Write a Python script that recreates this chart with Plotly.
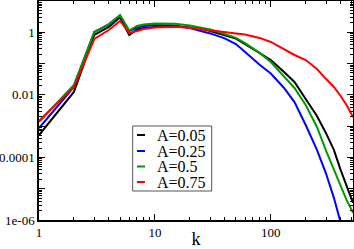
import plotly.graph_objects as go

k = [1, 2, 3, 4, 5, 6, 7, 8, 10, 12, 15, 20, 25, 30, 40, 50, 60, 80, 100,
     130, 160, 200, 250, 300, 350, 400, 450, 512]

A005 = [5.2e-4, 0.0124, 0.82, 1.48, 3.01, 0.82, 1.23, 1.37, 1.48, 1.51, 1.51, 1.42,
        1.32, 1.10, 0.79, 0.63, 0.42, 0.218, 0.130, 0.054, 0.0258, 0.0074, 2.1e-3,
        5.85e-4, 1.74e-4, 4.0e-5, 1.23e-5, 3.5e-6]
A025 = [8.7e-4, 0.0179, 1.02, 1.77, 3.4, 1.10, 1.42, 1.59, 1.71, 1.71, 1.65, 1.37,
        1.12, 0.92, 0.64, 0.42, 0.235, 0.091, 0.048, 0.0166, 0.0059, 1.09e-3, 1.74e-4,
        3.0e-5, 5.1e-6, 8.7e-7, 1.6e-7, 3e-8]
A050 = [1.36e-3, 0.0207, 1.02, 1.84, 3.57, 1.14, 1.59, 1.77, 1.91, 1.94, 1.88, 1.65,
        1.42, 1.23, 0.88, 0.66, 0.45, 0.22, 0.112, 0.0373, 0.0166, 4.75e-3, 9.4e-4,
        1.61e-4, 4.0e-5, 1.23e-5, 4.4e-6, 1.69e-6]
A075 = [1.47e-3, 0.0179, 0.61, 1.18, 2.30, 0.95, 1.10, 1.27, 1.42, 1.48, 1.51, 1.39,
        1.27, 1.14, 1.06, 0.92, 0.85, 0.66, 0.49, 0.29, 0.188, 0.130, 0.067, 0.032,
        0.0179, 9.2e-3, 4.75e-3, 1.97e-3]

labels = ["A=0.05", "A=0.25", "A=0.5", "A=0.75"]
colors = ["#000000", "#0000ff", "#009a00", "#ff0000"]
series = [A005, A025, A050, A075]

x_major = [1, 10, 100]
x_major_text = ["1", "10", "100"]
x_minor = [m * d for d in (1, 10, 100) for m in range(2, 10) if m * d <= 512]
y_major = [1e-6, 1e-5, 1e-4, 1e-3, 1e-2, 1e-1, 1, 10]
y_major_text = ["1e-06", "", "0.0001", "", "0.01", "", "1", ""]
y_minor = [m * 10.0 ** e for e in range(-6, 1) for m in range(2, 10)]

FONT = "Liberation Serif, Times New Roman, Times, serif"
W, H = 354, 249
L, R, T, B = 39, 1, 1, 29
pw, ph = W - L - R, H - T - B

fig = go.Figure()
for name, col, ys in zip(labels, colors, series):
    fig.add_trace(go.Scatter(x=k, y=ys, mode="lines", name=name,
                             line=dict(color=col, width=2), showlegend=False))

def px2paper(x, y):
    return (x - L) / pw, (H - B - y) / ph

# manual legend (box, sample lines, text)
x0, y0 = px2paper(132.7, 126)
x1, y1 = px2paper(211.7, 191)
shapes = [dict(type="rect", xref="paper", yref="paper", x0=x0, y0=y1, x1=x1, y1=y0,
               line=dict(color="#555555", width=1), fillcolor="white", layer="above")]
annotations = []
rows = [135, 151, 166.5, 182]
for name, col, ry in zip(labels, colors, rows):
    a0, b0 = px2paper(137, ry)
    a1, _ = px2paper(145, ry)
    shapes.append(dict(type="line", xref="paper", yref="paper", x0=a0, y0=b0, x1=a1, y1=b0,
                       line=dict(color=col, width=2), layer="above"))
    tx, ty = px2paper(155, ry)
    annotations.append(dict(xref="paper", yref="paper", x=tx, y=ty, text=name,
                            showarrow=False, xanchor="left", yanchor="middle",
                            font=dict(family=FONT, size=16, color="black")))

axis_common = dict(type="log", showgrid=False, zeroline=False, showline=True,
                   linecolor="black", linewidth=1.5, mirror="ticks", ticks="inside",
                   tickcolor="black", tickwidth=1, automargin=False,
                   tickfont=dict(family=FONT, size=13, color="black"))

fig.update_layout(
    width=W, height=H,
    margin=dict(l=L, r=R, t=T, b=B, pad=0),
    paper_bgcolor="white", plot_bgcolor="white",
    font=dict(family=FONT, color="black"),
    shapes=shapes, annotations=annotations,
    xaxis=dict(**axis_common, range=[0, 2.709], tickmode="array", tickvals=x_major,
               ticktext=x_major_text, ticklen=6,
               minor=dict(tickmode="array", tickvals=x_minor, ticklen=3, ticks="inside",
                          tickcolor="black", tickwidth=1),
               title=dict(text="k", font=dict(family=FONT, size=18, color="black"), standoff=3)),
    yaxis=dict(**axis_common, range=[-6, 1], tickmode="array", tickvals=y_major,
               ticktext=y_major_text, ticklen=6,
               minor=dict(tickmode="array", tickvals=y_minor, ticklen=3, ticks="inside",
                          tickcolor="black", tickwidth=1)),
)

fig.write_html("out.html", config={"displayModeBar": False},
               post_script="document.body.style.margin='0';document.body.style.padding='0';")
